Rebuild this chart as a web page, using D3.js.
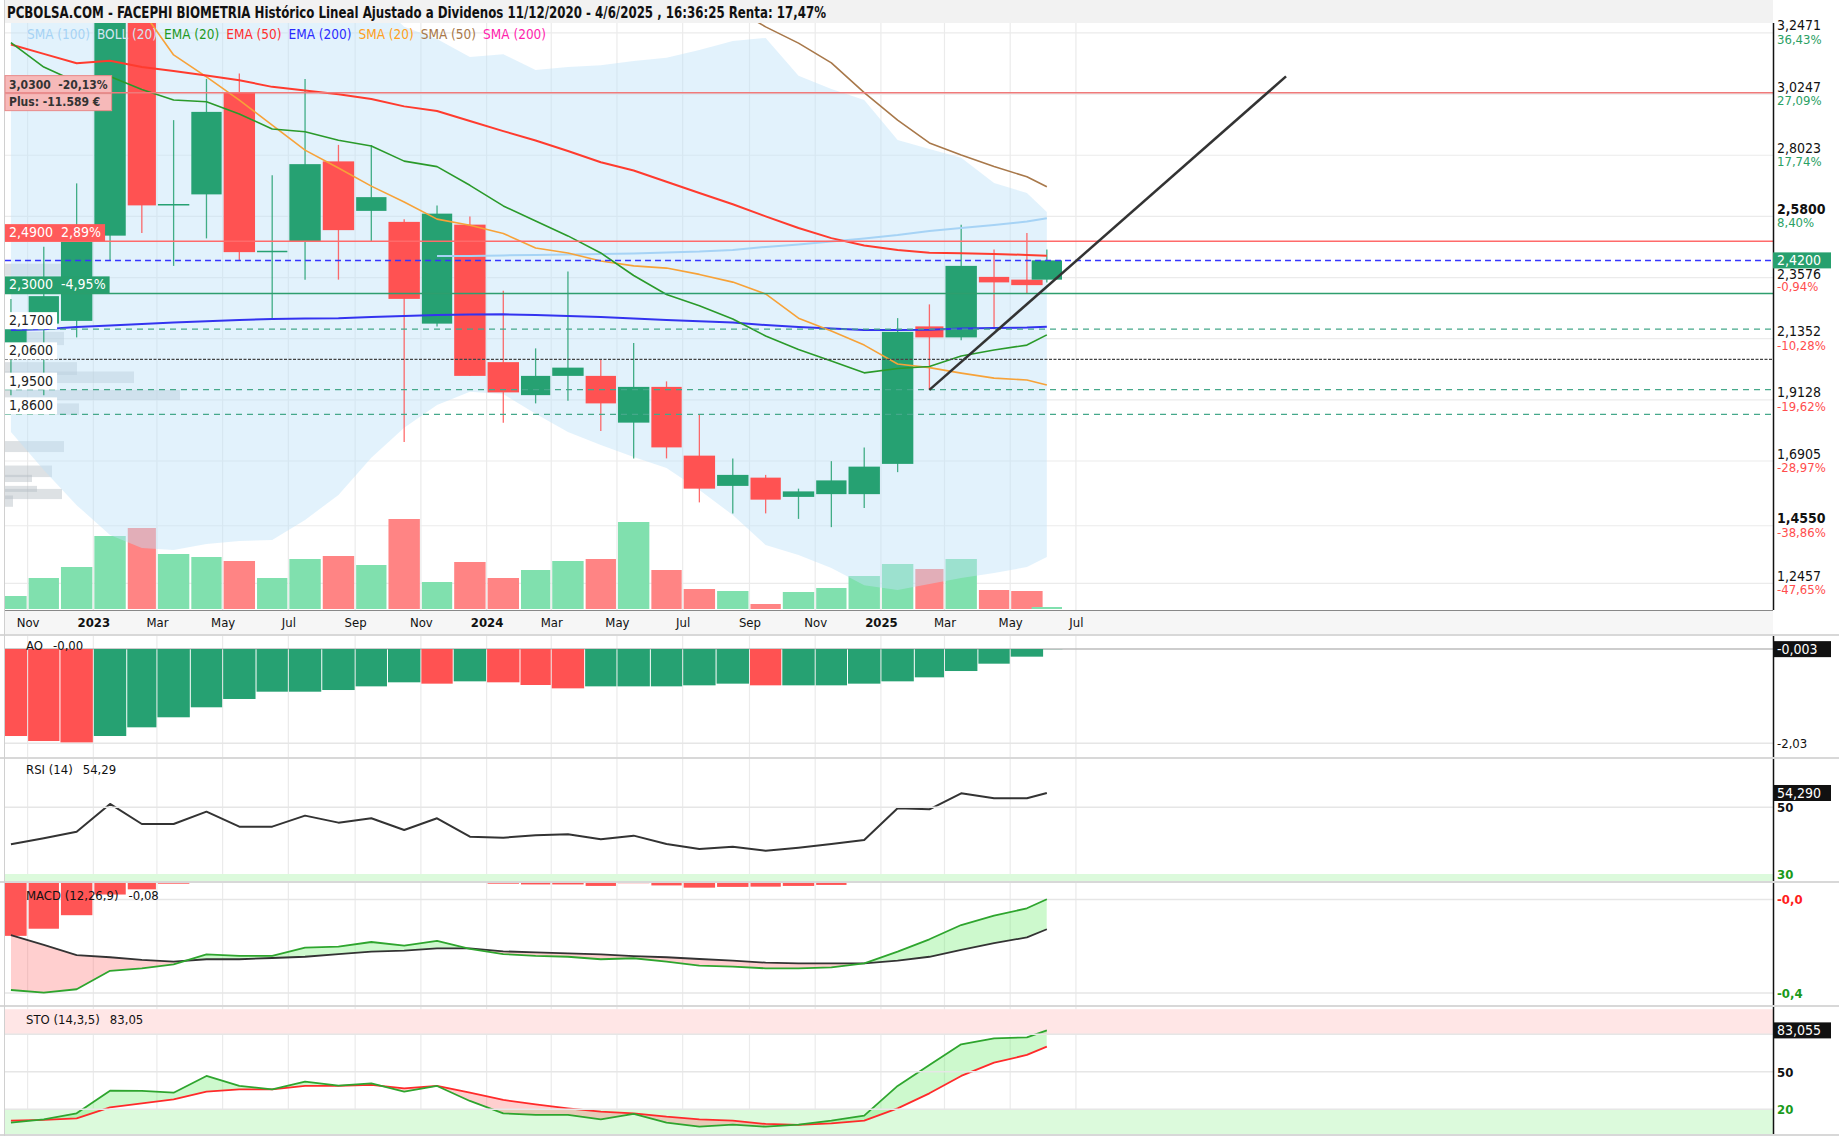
<!DOCTYPE html>
<html>
<head>
<meta charset="utf-8">
<script src="https://cdn.jsdelivr.net/npm/d3@7/dist/d3.min.js"></script>
<style>
html,body{margin:0;padding:0;background:#fff;}
svg{display:block;}
text{font-family:"Liberation Sans Narrow","DejaVu Sans Condensed","Roboto Condensed","Liberation Sans",Arial,sans-serif;}
</style>
</head>
<body>
<svg id="chart" width="1839" height="1138"></svg>
<script>
// ================= DATA =================
const titleText = "PCBOLSA.COM - FACEPHI BIOMETRIA Histórico Lineal Ajustado a Dividenos 11/12/2020 - 4/6/2025 , 16:36:25 Renta: 17,47%";
const asOfDate = "2025-06-04";
const months = ["2022-10","2022-11","2022-12",
  "2023-01","2023-02","2023-03","2023-04","2023-05","2023-06","2023-07","2023-08","2023-09","2023-10","2023-11","2023-12",
  "2024-01","2024-02","2024-03","2024-04","2024-05","2024-06","2024-07","2024-08","2024-09","2024-10","2024-11","2024-12",
  "2025-01","2025-02","2025-03","2025-04","2025-05","2025-06"];
const open  = [2.12,2.19,2.20,2.51,3.36,2.62,2.66,3.03,2.45,2.49,2.78,2.60,2.56,2.19,2.55,2.05,1.93,2.00,2.00,1.83,1.96,1.71,1.60,1.63,1.56,1.57,1.57,1.68,2.18,2.14,2.36,2.35,2.35];
const high  = [2.28,2.47,2.70,3.40,3.45,2.93,3.08,3.10,2.73,3.08,2.84,2.84,2.57,2.62,2.58,2.31,2.10,2.38,2.06,2.12,1.98,1.86,1.70,1.64,1.59,1.69,1.74,2.21,2.26,2.55,2.46,2.52,2.46];
const low   = [1.93,1.93,2.14,2.42,2.52,2.40,2.50,2.42,2.21,2.35,2.35,2.49,1.76,2.18,2.00,1.83,1.90,1.91,1.80,1.70,1.70,1.54,1.50,1.50,1.48,1.45,1.52,1.65,1.95,2.13,2.17,2.30,2.34];
const close = [2.17,2.29,2.49,3.36,2.62,2.625,2.96,2.45,2.455,2.77,2.53,2.65,2.28,2.59,2.00,1.94,2.00,2.03,1.90,1.96,1.74,1.59,1.64,1.55,1.58,1.62,1.67,2.16,2.14,2.40,2.34,2.33,2.42];
const volume = [13,31,42,73,81,55,52,48,31,50,53,44,90,27,47,31,39,48,50,87,39,20,18,5,17,21,33,45,40,50,19,18,2];

const sma100 = [null,null,null,null,null,null,null,null,null,null,null,null,null,
  2.436,2.436,2.438,2.440,2.441,2.443,2.445,2.449,2.452,2.458,2.469,2.478,2.489,2.500,2.512,2.527,2.538,2.549,2.561,2.573];
const bollUpper = [3.75,3.70,3.62,3.60,3.62,3.60,3.58,3.55,3.52,3.48,3.42,3.38,3.27,3.225,3.16,3.17,3.112,3.123,3.130,3.145,3.157,3.185,3.218,3.229,3.091,3.043,3.003,2.858,2.825,2.793,2.701,2.665,2.596];
const bollLower = [1.796,1.658,1.530,1.421,1.374,1.367,1.389,1.400,1.403,1.476,1.567,1.702,1.811,1.894,1.942,1.934,1.862,1.796,1.749,1.705,1.665,1.585,1.494,1.385,1.349,1.301,1.239,1.221,1.243,1.265,1.283,1.305,1.341];
const ema20 = [3.212,3.123,3.069,3.089,3.041,3.003,2.997,2.952,2.898,2.888,2.857,2.836,2.781,2.761,2.693,2.618,2.563,2.509,2.447,2.365,2.296,2.255,2.207,2.145,2.096,2.054,2.011,2.027,2.034,2.072,2.094,2.112,2.149];
const ema50 = [3.205,3.171,3.137,3.146,3.123,3.109,3.092,3.075,3.051,3.038,3.024,3.007,2.980,2.963,2.927,2.890,2.856,2.818,2.777,2.747,2.706,2.665,2.624,2.580,2.538,2.501,2.474,2.458,2.448,2.446,2.443,2.440,2.437];
const ema200 = [2.167,2.170,2.178,2.183,2.189,2.194,2.199,2.203,2.207,2.209,2.210,2.214,2.218,2.221,2.223,2.224,2.221,2.218,2.214,2.209,2.203,2.199,2.194,2.185,2.178,2.172,2.167,2.167,2.168,2.172,2.174,2.176,2.179];
const sma20 = [null,null,null,3.45,3.33,3.167,3.087,3.003,2.912,2.821,2.756,2.690,2.632,2.570,2.548,2.518,2.465,2.447,2.418,2.400,2.392,2.369,2.341,2.298,2.210,2.163,2.112,2.043,2.030,2.010,1.992,1.985,1.967];
const sma50 = [null,null,null,null,null,null,null,null,null,null,null,null,null,null,null,null,null,null,null,null,null,
  3.42,3.34,3.269,3.210,3.138,3.030,2.930,2.847,2.803,2.761,2.724,2.688];

const ao = [-1.873,-1.981,-2.01,-1.873,-1.686,-1.47,-1.255,-1.076,-0.919,-0.919,-0.883,-0.804,-0.717,-0.746,-0.696,-0.717,-0.775,-0.847,-0.804,-0.804,-0.804,-0.782,-0.746,-0.782,-0.782,-0.782,-0.746,-0.696,-0.610,-0.474,-0.316,-0.165,-0.003];
const rsi = [38.9,40.7,42.7,51.0,45.0,45.0,48.7,44.2,44.2,47.5,45.4,46.7,43.2,46.7,41.2,40.9,41.6,41.9,40.4,41.5,39.0,37.5,38.2,37.0,37.9,39.0,40.2,49.7,49.4,54.2,52.7,52.7,54.29];
const macd = [-0.443,-0.454,-0.440,-0.365,-0.355,-0.339,-0.298,-0.304,-0.304,-0.271,-0.267,-0.248,-0.263,-0.243,-0.276,-0.297,-0.304,-0.308,-0.318,-0.314,-0.328,-0.344,-0.348,-0.355,-0.355,-0.351,-0.335,-0.287,-0.237,-0.179,-0.141,-0.111,-0.074];
const signal = [-0.220,-0.260,-0.301,-0.310,-0.321,-0.328,-0.318,-0.318,-0.313,-0.308,-0.297,-0.287,-0.283,-0.274,-0.274,-0.286,-0.290,-0.294,-0.298,-0.305,-0.310,-0.317,-0.324,-0.332,-0.335,-0.335,-0.335,-0.324,-0.308,-0.280,-0.253,-0.229,-0.196];
const stoK = [9.2,11.9,16.7,34.8,34.6,33.2,46.6,38.6,35.9,42.0,38.8,40.7,34.0,38.6,26.6,16.7,15.4,15.4,11.9,16.2,9.2,6.0,7.6,6.0,7.6,10.8,14.8,38.6,55.4,71.9,76.7,77.5,83.05];
const stoD = [10.8,11.4,12.7,21.5,24.7,27.9,34.0,35.9,35.9,38.6,38.6,39.4,36.7,38.6,33.2,27.4,23.9,20.7,18.0,16.7,14.0,11.9,10.8,8.2,7.4,8.7,10.8,20.7,32.7,46.6,57.2,63.4,70.0];

const priceTicks = [3.2471,3.0247,2.8023,2.5800,2.3576,2.1352,1.9128,1.6905,1.4550,1.2457];
const priceTickPct = ["36,43%","27,09%","17,74%","8,40%","-0,94%","-10,28%","-19,62%","-28,97%","-38,86%","-47,65%"];
const priceTickBold = [false,false,false,true,false,false,false,false,true,false];

const levelPrices = [3.03,2.49,2.42,2.30,2.17,2.06,1.95,1.86];
const levelLabels = ["3,0300  -20,13%","2,4900  2,89%",null,"2,3000  -4,95%","2,1700","2,0600","1,9500","1,8600"];
const plusLabel = "Plus: -11.589 €";
const lastPriceLabel = "2,4200";

const trendDates = ["2025-02-15","2026-01-12"];
const trendPrices = [1.949, 3.089];

const vpHigh = [2.408,2.160,2.050,2.016,1.949,1.900,1.763,1.674,1.640,1.600,1.589,1.565];
const vpLow  = [2.364,2.112,2.003,1.974,1.912,1.858,1.723,1.632,1.614,1.578,1.552,1.524];
const vpVol  = [56,59,72,129,175,74,59,47,27,32,57,8];

const legendNames = ["SMA (100)","BOLL (20)","EMA (20)","EMA (50)","EMA (200)","SMA (20)","SMA (50)","SMA (200)"];

const aoTicks = [-2.03]; const aoTickLabels = ["-2,03"]; const aoLast = "-0,003";
const rsiTicks = [50,30]; const rsiTickLabels = ["50","30"]; const rsiLast = "54,290";
const macdTicks = [-0.075,-0.455]; const macdTickLabels = ["-0,0","-0,4"];
const stoTicks = [50,20]; const stoTickLabels = ["50","20"]; const stoLast = "83,055";
const panelTitles = [["AO","-0,00"],["RSI (14)","54,29"],["MACD (12,26,9)","-0,08"],["STO (14,3,5)","83,05"]];

// ================= STYLES / LAYOUT =================
const GREEN = "#26a172", RED = "#ff5252";
const legendColors = ["#a6d3f5","#d3e5f2","#1f9a1f","#ff2e2e","#2b2bff","#ffa020","#a8784a","#ff1fae"];
const levelStyle = [
  {stroke:"#f07a7a", dash:null, w:1.5, box:"#f6b9b9", boxStroke:"#e98a8a", txt:"#333", fs:12, bold:true},
  {stroke:"#ff6a6a", dash:null, w:1.5, box:"#ff5a5a", txt:"#fff", fs:14},
  {stroke:"#3434ff", dash:"6,4", w:1.5, box:null},
  {stroke:"#2e9e6e", dash:null, w:1.5, box:"#27a06e", txt:"#fff", fs:14},
  {stroke:"#45a88a", dash:"6,5", w:1.3, box:"#fff", txt:"#222", fs:14},
  {stroke:"#444", dash:"3,1.5", w:1.2, box:"#fff", txt:"#222", fs:14},
  {stroke:"#45a88a", dash:"6,5", w:1.3, box:"#fff", txt:"#222", fs:14},
  {stroke:"#45a88a", dash:"6,5", w:1.3, box:"#fff", txt:"#222", fs:14}
];
const L = 5, R = 1773;
const P = {main:[23,610], axis:[610,634], ao:[636,757], rsi:[759,881], macd:[883,1005], sto:[1007,1134]};

const svg = d3.select("#chart");
const defs = svg.append("defs");
const parseM = d3.timeParse("%Y-%m");
const parseD = d3.timeParse("%Y-%m-%d");
const dates = months.map(parseM);
const asOf = parseD(asOfDate);
const n = months.length;

const x = d3.scaleTime().domain([parseD("2022-10-11"), parseD("2027-04-09")]).range([L, R]);
const y = d3.scaleLinear().domain([1.1487, 3.2832]).range([610, 23]);
const yVol = d3.scaleLinear().domain([0, 100]).range([609, 509]);
const xVP = d3.scaleLinear().domain([0, 100]).range([0, 100]);
const yAO = d3.scaleLinear().domain([-2.03, 0]).range([743.3, 649]);
const yRSI = d3.scaleLinear().domain([30, 50]).range([874, 807.3]);
const yMACD = d3.scaleLinear().domain([-0.5, 0]).range([1004, 881]);
const ySTO = d3.scaleLinear().domain([0, 100]).range([1134.2, 1009.2]);

const x0 = i => x(dates[i]);
const x1 = i => x(d3.timeMonth.offset(dates[i], 1));
const cx = i => i === n - 1 ? x(asOf) : (x0(i) + x1(i)) / 2;
const bw = i => x1(i) - x0(i) - 2;

function clipRect(id, a, b, c, d) {
  defs.append("clipPath").attr("id", id).append("rect").attr("x", a).attr("y", b).attr("width", c - a).attr("height", d - b);
}
clipRect("cMain", L, P.main[0], R, P.main[1]);
clipRect("cAO", L, P.ao[0], R, P.ao[1]);
clipRect("cRSI", L, P.rsi[0], R, P.rsi[1]);
clipRect("cMACD", L, P.macd[0], R, P.macd[1]);
clipRect("cSTO", L, P.sto[0], R, P.sto[1]);

// background
svg.append("rect").attr("width", 1839).attr("height", 1138).attr("fill", "#fff");
svg.append("rect").attr("x", L).attr("y", 0).attr("width", R - L).attr("height", 23).attr("fill", "#f2f2f2");
svg.append("rect").attr("x", L).attr("y", P.axis[0]).attr("width", R - L).attr("height", P.axis[1] - P.axis[0]).attr("fill", "#f6f6f6");
// separators
[[P.axis[1], 2], [P.ao[1], 2], [P.rsi[1], 2], [P.macd[1], 2], [P.sto[1], 2]].forEach(([yy, h]) => {
  svg.append("rect").attr("x", 0).attr("y", yy).attr("width", 1839).attr("height", h).attr("fill", "#d8d8d8");
});
svg.append("line").attr("x1", L).attr("x2", R).attr("y1", P.axis[0] + 0.5).attr("y2", P.axis[0] + 0.5).attr("stroke", "#888").attr("stroke-width", 1);
svg.append("line").attr("x1", L - 0.5).attr("x2", L - 0.5).attr("y1", 0).attr("y2", 1136).attr("stroke", "#d0d0d0");

// vertical grid
const xTicks = d3.timeMonth.range(parseM("2022-11"), parseM("2025-08"), 2);
const vGrid = svg.append("g");
[P.main, P.ao, P.rsi, P.macd, P.sto].forEach(p => {
  vGrid.selectAll(null).data(xTicks).join("line")
    .attr("x1", d => x(d)).attr("x2", d => x(d)).attr("y1", p[0]).attr("y2", p[1])
    .attr("stroke", "#ebebeb").attr("stroke-width", 1.2);
});
// horizontal price grid
svg.append("g").selectAll("line").data(priceTicks).join("line")
  .attr("x1", L).attr("x2", R).attr("y1", d => y(d)).attr("y2", d => y(d))
  .attr("stroke", "#ebebeb").attr("stroke-width", 1.2);

// ================= MAIN PANEL =================
const gMain = svg.append("g").attr("clip-path", "url(#cMain)");

// volume profile
gMain.append("g").selectAll("rect").data(vpVol).join("rect")
  .attr("x", L).attr("y", (d, i) => y(vpHigh[i])).attr("width", d => xVP(d))
  .attr("height", (d, i) => y(vpLow[i]) - y(vpHigh[i]))
  .attr("fill", "#b4bcc3").attr("opacity", 0.45);

// volume bars
gMain.append("g").selectAll("rect").data(volume).join("rect")
  .attr("x", (d, i) => cx(i) - bw(i) / 2).attr("width", (d, i) => bw(i))
  .attr("y", d => yVol(d)).attr("height", d => yVol(0) - yVol(d))
  .attr("fill", (d, i) => close[i] >= open[i] ? "#80e0ae" : "#ff8484");

// Bollinger band
const band = d3.area().defined(i => bollUpper[i] != null).x(i => cx(i)).y0(i => y(bollLower[i])).y1(i => y(bollUpper[i]));
gMain.append("path").attr("d", band(d3.range(n))).attr("fill", "#bfe3f9").attr("opacity", 0.45);

// candles
const gC = gMain.append("g");
d3.range(n).forEach(i => {
  const col = close[i] >= open[i] ? GREEN : RED;
  gC.append("line").attr("x1", cx(i)).attr("x2", cx(i)).attr("y1", y(high[i])).attr("y2", y(low[i]))
    .attr("stroke", col).attr("stroke-width", 1.3).attr("opacity", 0.85);
  const top = y(Math.max(open[i], close[i])), bot = y(Math.min(open[i], close[i]));
  gC.append("rect").attr("x", cx(i) - bw(i) / 2).attr("width", bw(i))
    .attr("y", top).attr("height", Math.max(1.5, bot - top)).attr("fill", col);
});

// moving averages
function drawLine(g, arr, yS, color, w) {
  const ln = d3.line().defined(i => arr[i] != null).x(i => cx(i)).y(i => yS(arr[i]));
  g.append("path").attr("d", ln(d3.range(n))).attr("fill", "none").attr("stroke", color).attr("stroke-width", w).attr("stroke-linejoin", "round");
}
drawLine(gMain, sma100, y, "#a6d3f5", 2);
drawLine(gMain, ema200, y, "#3333f0", 2);
drawLine(gMain, sma50, y, "#a8784a", 1.6);
drawLine(gMain, sma20, y, "#f7a238", 1.6);
drawLine(gMain, ema50, y, "#ff3b2e", 2);
drawLine(gMain, ema20, y, "#2a9a2a", 1.6);

// level lines
levelPrices.forEach((v, i) => {
  const s = levelStyle[i];
  gMain.append("line").attr("x1", L).attr("x2", R).attr("y1", y(v)).attr("y2", y(v))
    .attr("stroke", s.stroke).attr("stroke-width", s.w).attr("stroke-dasharray", s.dash);
});

// trend line
const tl = d3.line().x(d => x(parseD(d[0]))).y(d => y(d[1]));
gMain.append("path").attr("d", tl(trendDates.map((d, i) => [d, trendPrices[i]])))
  .attr("stroke", "#333").attr("stroke-width", 2.5).attr("fill", "none");

// level labels (left)
levelPrices.forEach((v, i) => {
  const lab = levelLabels[i]; if (!lab) return;
  const s = levelStyle[i];
  const g = svg.append("g");
  const yy = y(v);
  const t = g.append("text").attr("x", L + 4).attr("y", yy - 4).attr("font-size", s.fs)
    .attr("fill", s.txt).attr("font-weight", s.bold ? "bold" : null).attr("xml:space", "preserve").style("white-space", "pre").text(lab);
  const w = t.node().getComputedTextLength() + 8;
  g.insert("rect", "text").attr("x", L).attr("y", yy - 17).attr("width", w).attr("height", 17)
    .attr("fill", s.box).attr("stroke", s.boxStroke || "none");
  if (i === 0) {
    g.append("text").attr("x", L + 4).attr("y", yy + 13).attr("font-size", 12).attr("font-weight", "bold").attr("fill", "#333").text(plusLabel);
    g.insert("rect", "text").attr("x", L).attr("y", yy + 1).attr("width", w).attr("height", 17)
      .attr("fill", s.box).attr("stroke", s.boxStroke);
  }
});

// legend
let lx = 27;
legendNames.forEach((nm, i) => {
  const t = svg.append("text").attr("x", lx).attr("y", 39).attr("font-size", 13.5).attr("fill", legendColors[i]).text(nm);
  lx += t.node().getComputedTextLength() + 7;
});

// title
svg.append("text").attr("x", 7).attr("y", 18).attr("font-size", 15).attr("font-weight", "bold").attr("fill", "#111")
  .attr("textLength", 819).attr("lengthAdjust", "spacingAndGlyphs").text(titleText);

// right price axis
svg.append("line").attr("x1", R + 0.5).attr("x2", R + 0.5).attr("y1", P.main[0]).attr("y2", P.main[1]).attr("stroke", "#111").attr("stroke-width", 1.5);
const gR = svg.append("g");
const lpY = y(levelPrices[2]);
priceTicks.forEach((v, i) => {
  let vy = y(v) - 2.5, py = y(v) + 11;
  // keep a tick label clear of the last-price box
  if (vy > lpY - 8 && vy - 10 < lpY + 8) { vy = lpY + 8 + 11; py = vy + 12; }
  gR.append("text").attr("x", R + 4).attr("y", vy).attr("font-size", 14)
    .attr("font-weight", priceTickBold[i] ? "bold" : null).attr("fill", "#111")
    .text(v.toFixed(4).replace(".", ","));
  gR.append("text").attr("x", R + 4).attr("y", py).attr("font-size", 13)
    .attr("fill", priceTickPct[i].startsWith("-") ? "#ff4d4d" : "#2aa064").text(priceTickPct[i]);
});
// last price box
svg.append("rect").attr("x", R).attr("y", lpY - 8).attr("width", 58).attr("height", 16).attr("fill", "#27a06e");
svg.append("text").attr("x", R + 4).attr("y", lpY + 5).attr("font-size", 14).attr("fill", "#fff").text(lastPriceLabel);

// x axis
const xAxis = d3.axisBottom(x).tickValues(xTicks).tickSize(0).tickPadding(8)
  .tickFormat(d => d.getMonth() === 0 ? d3.timeFormat("%Y")(d) : d3.timeFormat("%b")(d));
const gx = svg.append("g").attr("transform", `translate(0,${P.axis[0]})`).call(xAxis);
gx.select(".domain").remove();
gx.selectAll("text").attr("font-size", 13).attr("fill", "#111")
  .style("font-family", '"Liberation Sans Narrow","DejaVu Sans Condensed","Roboto Condensed","Liberation Sans",Arial,sans-serif')
  .attr("font-weight", d => d.getMonth() === 0 ? "bold" : null);

// ================= INDICATOR PANELS =================
function panelAxis(p) {
  svg.append("line").attr("x1", R + 0.5).attr("x2", R + 0.5).attr("y1", p[0]).attr("y2", p[1]).attr("stroke", "#111").attr("stroke-width", 1.5);
}
function hGrid(vals, yS) {
  svg.append("g").selectAll("line").data(vals).join("line")
    .attr("x1", L).attr("x2", R).attr("y1", d => yS(d)).attr("y2", d => yS(d)).attr("stroke", "#e6e6e6").attr("stroke-width", 1.5);
}
function tickText(vals, labels, yS, colors, bold) {
  vals.forEach((v, i) => {
    svg.append("text").attr("x", R + 4).attr("y", yS(v) + 5).attr("font-size", 13)
      .attr("font-weight", bold ? "bold" : null).attr("fill", colors[i]).text(labels[i]);
  });
}
function valueBox(v, yS, label) {
  const yy = yS(v);
  svg.append("rect").attr("x", R).attr("y", yy - 8).attr("width", 58).attr("height", 16).attr("fill", "#111");
  svg.append("text").attr("x", R + 4).attr("y", yy + 5).attr("font-size", 14).attr("fill", "#fff").text(label);
}
function panelTitle(k, yy) {
  const t = svg.append("text").attr("x", 26).attr("y", yy).attr("font-size", 13).attr("fill", "#111").text(panelTitles[k][0]);
  const w = t.node().getComputedTextLength();
  svg.append("text").attr("x", 26 + w + 10).attr("y", yy).attr("font-size", 13).attr("fill", "#111").text(panelTitles[k][1]);
}
function crossFill(g, id, a, b, yS, top, bottom, upCol, downCol) {
  const idx = d3.range(n);
  const between = d3.area().x(i => cx(i)).y0(i => yS(a[i])).y1(i => yS(b[i]));
  const above = d3.area().x(i => cx(i)).y0(top).y1(i => yS(b[i]));
  const below = d3.area().x(i => cx(i)).y0(i => yS(b[i])).y1(bottom);
  defs.append("clipPath").attr("id", id + "U").append("path").attr("d", above(idx));
  defs.append("clipPath").attr("id", id + "D").append("path").attr("d", below(idx));
  g.append("g").attr("clip-path", `url(#${id}U)`).append("path").attr("d", between(idx)).attr("fill", upCol);
  g.append("g").attr("clip-path", `url(#${id}D)`).append("path").attr("d", between(idx)).attr("fill", downCol);
}

// AO
hGrid(aoTicks, yAO);
const gAO = svg.append("g").attr("clip-path", "url(#cAO)");
gAO.append("line").attr("x1", L).attr("x2", R).attr("y1", yAO(0)).attr("y2", yAO(0)).attr("stroke", "#bdbdbd").attr("stroke-width", 1.5);
gAO.selectAll("rect").data(ao).join("rect")
  .attr("x", (d, i) => cx(i) - (x1(i) - x0(i)) / 2 + 0.5).attr("width", (d, i) => x1(i) - x0(i) - 1)
  .attr("y", d => Math.min(yAO(0), yAO(d))).attr("height", d => Math.abs(yAO(d) - yAO(0)))
  .attr("fill", (d, i) => (i > 0 && d >= ao[i - 1]) ? GREEN : RED);
panelAxis(P.ao);
tickText(aoTicks, aoTickLabels, yAO, ["#111"], false);
valueBox(ao[n - 1], yAO, aoLast);
panelTitle(0, 650);

// RSI
const gRSI = svg.append("g").attr("clip-path", "url(#cRSI)");
gRSI.append("rect").attr("x", L).attr("width", R - L).attr("y", yRSI(30)).attr("height", P.rsi[1] - yRSI(30)).attr("fill", "#dcfadc");
hGrid([50], yRSI);
drawLine(gRSI, rsi, yRSI, "#333", 2);
panelAxis(P.rsi);
tickText(rsiTicks, rsiTickLabels, yRSI, ["#111", "#1a9a1a"], true);
valueBox(rsi[n - 1], yRSI, rsiLast);
panelTitle(1, 774);

// MACD
hGrid(macdTicks, yMACD);
const gM = svg.append("g").attr("clip-path", "url(#cMACD)");
const hist = macd.map((v, i) => v - signal[i]);
gM.selectAll("rect.h").data(hist).join("rect")
  .attr("x", (d, i) => cx(i) - (x1(i) - x0(i)) / 2 + 1).attr("width", (d, i) => x1(i) - x0(i) - 2)
  .attr("y", d => Math.min(yMACD(0), yMACD(d))).attr("height", d => Math.abs(yMACD(d) - yMACD(0)))
  .attr("fill", d => d < 0 ? "#ff5555" : "#4fd17f");
crossFill(gM, "mf", macd, signal, yMACD, P.macd[0] - 50, P.macd[1] + 50, "rgba(90,235,90,0.30)", "rgba(255,110,110,0.33)");
drawLine(gM, signal, yMACD, "#333", 1.8);
drawLine(gM, macd, yMACD, "#2ea52e", 1.8);
panelAxis(P.macd);
tickText(macdTicks, macdTickLabels, yMACD, ["#ff2020", "#1a9a1a"], true);
panelTitle(2, 900);

// STO
const gS = svg.append("g").attr("clip-path", "url(#cSTO)");
gS.append("rect").attr("x", L).attr("width", R - L).attr("y", ySTO(100)).attr("height", ySTO(80) - ySTO(100)).attr("fill", "#ffe6e6");
gS.append("rect").attr("x", L).attr("width", R - L).attr("y", ySTO(20)).attr("height", ySTO(0) - ySTO(20)).attr("fill", "#dcfadc");
hGrid([50, 80, 20], ySTO);
crossFill(gS, "sf", stoK, stoD, ySTO, P.sto[0] - 50, P.sto[1] + 50, "rgba(90,235,90,0.30)", "rgba(255,110,110,0.33)");
drawLine(gS, stoD, ySTO, "#ff2a2a", 1.8);
drawLine(gS, stoK, ySTO, "#2ea52e", 1.8);
panelAxis(P.sto);
tickText(stoTicks, stoTickLabels, ySTO, ["#111", "#1a9a1a"], true);
valueBox(stoK[n - 1], ySTO, stoLast);
panelTitle(3, 1024);
</script>
</body>
</html>
